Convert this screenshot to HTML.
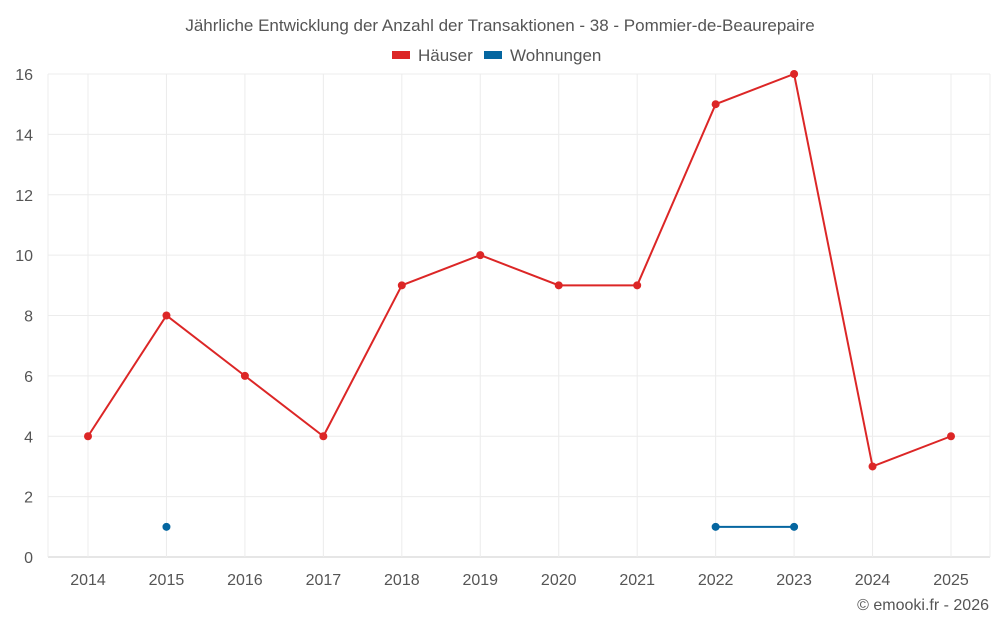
<!DOCTYPE html>
<html><head><meta charset="utf-8"><style>
body{margin:0;background:#fff;font-family:"Liberation Sans",sans-serif;}
svg text{font-family:"Liberation Sans",sans-serif;}
</style></head><body>
<svg id="chart" width="1000" height="625">
<text x="500" y="31" text-anchor="middle" font-size="17" fill="#555">Jährliche Entwicklung der Anzahl der Transaktionen - 38 - Pommier-de-Beaurepaire</text>
<g><rect x="392" y="51" width="18" height="8" fill="#dc2626"/><text x="418" y="61" font-size="17" fill="#555">Häuser</text></g>
<g><rect x="484" y="51" width="18" height="8" fill="#0566a0"/><text x="510" y="61" font-size="17" fill="#555">Wohnungen</text></g>
<g id="grid"></g><g id="axes"></g><g id="series"></g>
<text x="989" y="610" text-anchor="end" font-size="16" fill="#555">© emooki.fr - 2026</text>
</svg>
<script>
const years=[2014,2015,2016,2017,2018,2019,2020,2021,2022,2023,2024,2025];
const haeuser=[4,8,6,4,9,10,9,9,15,16,3,4];
const wohnungen=[null,1,null,null,null,null,null,null,1,1,null,null];
const yTicks=[0,2,4,6,8,10,12,14,16];
const NS="http://www.w3.org/2000/svg";
const L=48,R=990,T=74,B=557;
const x=i=>88+i*(951-88)/(years.length-1);
const y=v=>B-(v/16)*(B-T);
function mk(t,a,p){const e=document.createElementNS(NS,t);for(const k in a)e.setAttribute(k,a[k]);p.appendChild(e);return e;}
const g=document.getElementById('grid'),ax=document.getElementById('axes'),s=document.getElementById('series');
yTicks.forEach(v=>{const l=mk('line',{x1:L,x2:R,y1:y(v),y2:y(v),stroke:v===0?'#ccc':'#ececec'},g);


const t=mk('text',{x:33,y:y(v)+6,'text-anchor':'end','font-size':16,fill:'#555'},ax);t.textContent=v;

});
years.forEach((yr,i)=>{const l=mk('line',{x1:x(i),x2:x(i),y1:T,y2:B,stroke:'#ececec'},g);


const t=mk('text',{x:x(i),y:585,'text-anchor':'middle','font-size':16,fill:'#555'},ax);t.textContent=yr;

});
[L,R].forEach(xx=>{const l=mk('line',{x1:xx,x2:xx,y1:T,y2:B,stroke:'#ececec'},g);});
function draw(vals,col,name){let d='',pen=false;
vals.forEach((v,i)=>{if(v==null){pen=false;return;}d+=(pen?'L':'M')+x(i)+' '+y(v)+' ';pen=true;});
const p=mk('path',{d:d,fill:'none',stroke:col,'stroke-width':2},s);


vals.forEach((v,i)=>{if(v==null)return;const c=mk('circle',{cx:x(i),cy:y(v),r:4,fill:col},s);

});}
draw(haeuser,'#dc2626','haeuser');
draw(wohnungen,'#0566a0','wohnungen');
</script>
</body></html>
